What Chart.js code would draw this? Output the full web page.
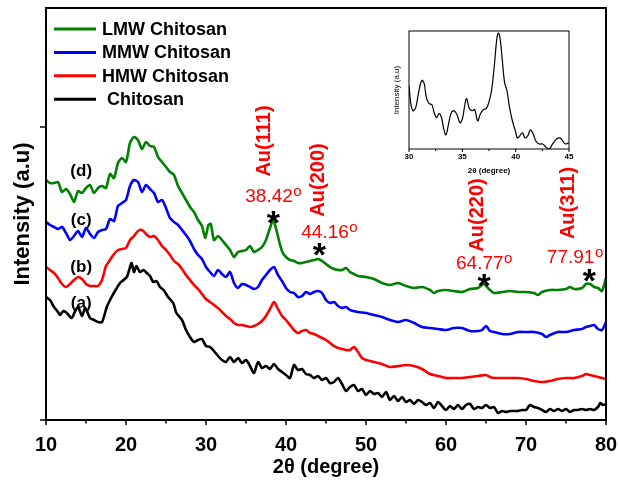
<!DOCTYPE html>
<html>
<head>
<meta charset="utf-8">
<script src="https://cdn.jsdelivr.net/npm/chart.js@4.4.0/dist/chart.umd.min.js"></script>
<style>
  body { margin: 0; background: #fff; }
  #wrap { position: relative; width: 619px; height: 486px; }
  #main { position: absolute; left: 0; top: 0; }
  #inset { position: absolute; left: 385px; top: 25px; }
</style>
</head>
<body>
<div id="wrap">
  <canvas id="main" width="619" height="486"></canvas>
  <canvas id="inset" width="195" height="155"></canvas>
</div>
<script>
// XRD patterns, offset vertically (arbitrary units)
const seriesNames = ['LMW Chitosan', 'MMW Chitosan', 'HMW Chitosan', ' Chitosan'];
const seriesTags = ['(d)', '(c)', '(b)', '(a)'];
const seriesColors = ['#008000', '#0000ff', '#ff0000', '#000000'];

const lmwX = [10,10.5,11,11.5,12,12.5,13,13.5,14,14.5,15,15.5,16,16.5,17,17.5,18,18.5,19,19.5,20,20.5,21,21.5,22,22.5,23,23.5,24,24.5,25,25.5,26,26.5,27,27.5,28,28.5,29,29.5,29.9,30.3,30.6,31,31.5,32,32.5,33,33.5,34,34.5,35,35.5,36,36.5,37,37.5,38,38.4,38.8,39.2,39.6,40,40.5,41,41.5,42,42.5,43,43.5,44,44.5,45,45.5,46,46.5,47,47.5,48,48.5,49,50,51,52,53,54,55,56,57,58,58.5,59,60,61,62,63,64,64.7,65.5,66,67,68,69,70,71,71.5,72,73,74,75,75.5,76,77,77.5,78,78.5,79,79.5,80];
const lmwY = [240,237,237,238,228,231,226,218,229,227,232,235,227,232,234,232,246,242,257,262,258,277,283,280,271,278,274,273,263,258,253,248,245,234,227,220,213,208,200,194,182,195,196,180,184,180,175,170,163,168,169,170,174,168,170,173,180,192,200,190,177,167,163,160,159,157,157,158,159,160,161,159,156,153,151,150,150,152,148,146,144,143,141,137,135,137,134,132,133,130,127,129,130,129,128,131,132,136,130,127,128,129,128,128,127,125,128,130,130,131,133,131,132,136,136,133,132,129,142];

const mmwX = [10,10.5,11,11.5,12,12.5,13,13.5,14,14.5,15,15.5,16,16.5,17,17.5,18,18.5,19,19.5,20,20.5,21,21.5,22,22.5,23,23.5,24,24.5,25,25.5,26,26.5,27,27.5,28,28.5,29,29.5,30,30.5,31,31.5,32,32.5,33,33.5,34,34.5,35,35.5,36,36.5,37,37.5,38,38.5,39,39.5,40,40.5,41,41.5,42,42.5,43,43.5,44,44.5,45,45.5,46,46.5,47,47.5,48,49,50,51,52,53,54,55,56,57,58,59,60,61,62,63,64,64.5,65,65.5,66,67,68,69,70,71,72,72.5,73,74,75,76,77,77.5,78,78.5,79,79.5,80];
const mmwY = [198,195,193,191,193,187,180,184,189,183,192,186,182,188,190,191,201,199,214,217,220,234,240,238,228,235,231,227,218,220,212,202,198,195,190,185,179,171,165,161,153,148,144,150,146,143,148,137,132,136,135,133,131,133,140,145,150,153,145,139,132,128,127,123,124,128,126,128,129,127,120,117,118,114,112,113,110,108,107,105,103,100,98,100,97,93,92,91,90,92,92,89,89,90,94,89,88,86,86,88,88,88,86,83,85,88,88,90,91,93,94,95,91,90,98];

const hmwX = [10,10.5,11,11.5,12,12.5,13,13.5,14,14.5,15,15.5,16,16.5,17,17.5,18,18.5,19,19.5,20,20.5,21,21.5,22,22.5,23,23.5,24,24.5,25,25.5,26,26.5,27,27.5,28,28.5,29,29.5,30,30.5,31,31.5,32,32.5,33,33.5,34,34.5,35,35.5,36,36.5,37,37.5,38,38.5,39,39.5,40,40.5,41,41.5,42,42.5,43,43.5,44,44.5,45,45.5,46,46.5,47,47.5,48,48.5,49,49.5,50,50.5,51,51.5,52,53,54,55,56,57,58,59,60,61,62,63,64,65,65.5,66,67,68,69,70,71,72,73,74,75,76,77,77.5,78,79,80];
const hmwY = [153,150,147,142,136,133,136,140,143,141,136,134,134,134,140,154,160,166,170,171,172,180,184,189,190,186,183,184,180,174,170,165,159,156,151,145,140,135,131,126,121,118,115,112,108,104,101,97,95,95,94,93,94,96,99,104,111,118,111,104,100,95,90,87,89,90,87,86,84,82,80,77,74,72,71,70,70,73,68,62,60,59,58,57,56,53,54,55,54,51,46,44,42,42,42,43,44,45,43,42,42,42,42,41,39,38,39,41,42,42,44,46,45,43,41];

const chitX = [10,10.5,11,11.5,11.75,12.2,12.6,13.2,13.6,14,14.5,14.9,15.5,16,16.5,17,17.6,18.2,18.7,19.25,19.7,20.1,20.4,20.7,21,21.3,21.75,22.2,22.6,23,23.4,23.8,24.25,24.7,25.25,25.9,26.3,27,27.5,28,28.5,29,29.5,30,30.5,31,31.5,32,32.5,33,33.5,34,34.5,35,35.5,36,36.5,37,37.5,38,38.5,39,39.5,40,40.5,41,41.5,42,42.5,43,43.5,44,44.5,45,45.5,46,46.5,47,47.5,48,48.5,49,49.5,50,50.5,51,51.5,52,52.5,53,53.5,54,54.5,55,55.5,56,56.5,57,57.5,58,58.5,59,59.5,60,60.5,61,61.5,62,62.5,63,63.5,64,64.5,65,65.5,66,66.5,67,67.5,68,68.5,69,69.5,70,70.5,71,71.5,72,72.5,73,73.5,74,74.5,75,75.5,76,76.5,77,77.5,78,78.5,79,79.3,79.6,80];
const chitY = [123,120,113,108,105,109,107,102,108,113,104,112,102,100,98,98,113,123,130,137,140,143,150,157,148,154,148,150,147,144,138,139,133,130,123,117,107,100,90,83,78,80,81,74,73,69,64,60,58,63,58,62,57,60,54,47,58,52,54,51,56,51,48,45,42,55,50,51,46,45,42,44,40,42,37,38,42,36,29,33,35,29,31,25,29,26,27,23,28,20,24,19,23,18,20,16,20,18,15,17,12,18,14,10,14,11,15,11,15,16,11,13,12,15,12,13,7,9,8,9,9,9,10,10,15,13,12,10,8,11,9,11,9,11,8,10,10,11,10,11,10,13,17,15,16];

// Au reflections
const peakNames = ['Au(111)', 'Au(200)', 'Au(220)', 'Au(311)'];
const peakAngles = [38.42, 44.16, 64.77, 77.91];

// Inset: 30-45 degree window around Au(111)
const insetX = [30,30.17,30.38,30.63,30.88,31.2,31.42,31.63,31.89,32.14,32.36,32.58,32.83,33.05,33.24,33.46,33.71,33.93,34.15,34.46,34.78,35.03,35.19,35.4,35.66,35.92,36.16,36.44,36.7,36.98,37.23,37.48,37.74,38.02,38.24,38.4,38.56,38.75,38.96,39.18,39.43,39.69,39.97,40.16,40.38,40.63,40.88,41.13,41.39,41.64,41.89,42.2,42.52,42.83,43.14,43.46,43.84,44.15,44.41,44.65,44.97];
const insetY = [63,45,38,41,55,68,65,51,45,44,36,31,35,31,21,14,25,35,38,35,26,31,41,50,40,38,39,28,35,39,40,46,58,85,110,115,108,88,66,58,41,28,18,11,13,16,11,13,19,15,8,5,5,2,0,5,10,11,8,5,6];

const FONT = '"Liberation Sans", Arial, Helvetica, sans-serif';

const toPoints = (xs, ys) => xs.map((x, i) => ({ x, y: ys[i] }));

const mainData = [lmwX, mmwX, hmwX, chitX].map((xs, i) => ({
  label: seriesNames[i],
  data: toPoints(xs, [lmwY, mmwY, hmwY, chitY][i]),
  borderColor: seriesColors[i],
  borderWidth: 2.6,
  pointRadius: 0,
  tension: 0.25,
  fill: false
}));

// where the tags and peak texts sit, in axis units
const tagPos = { x: 14.4, y: [249, 200, 153, 117] };
const peakText = [
  { star: 205, valX: 38.4, valY: 225, hklX: 37.25, hklY: 279 },
  { star: 173, valX: 45.4, valY: 189, hklX: 44.0, hklY: 240 },
  { star: 142, valX: 64.75, valY: 158, hklX: 63.9, hklY: 205 },
  { star: 147, valX: 76.1, valY: 164, hklX: 75.3, hklY: 217 }
];

// keep the plot edges where the layout padding puts them
const noEdgePadding = s => { s.paddingLeft = 0; s.paddingRight = 0; s.paddingTop = 0; s.paddingBottom = 0; };

const frameTicks = {
  id: 'frameTicks',
  afterDraw(chart) {
    const { ctx, chartArea: a, scales: { x, y } } = chart;
    ctx.save();
    ctx.strokeStyle = '#000';
    ctx.lineWidth = 2;
    ctx.strokeRect(a.left, a.top, a.right - a.left, a.bottom - a.top);
    ctx.lineWidth = 1.5;
    ctx.beginPath();
    for (let v = 10; v <= 80; v += 5) {
      const px = x.getPixelForValue(v);
      ctx.moveTo(px, a.bottom);
      ctx.lineTo(px, a.bottom + (v % 10 === 0 ? 5 : 3.5));
    }
    [0, 293].forEach(v => {
      const py = y.getPixelForValue(v);
      ctx.moveTo(a.left, py);
      ctx.lineTo(a.left - 6, py);
    });
    ctx.stroke();
    ctx.restore();
  }
};

const legendBox = {
  id: 'legendBox',
  afterDraw(chart) {
    const { ctx, chartArea: a } = chart;
    ctx.save();
    ctx.font = 'bold 18px ' + FONT;
    ctx.textBaseline = 'middle';
    chart.data.datasets.forEach((ds, i) => {
      const yy = a.top + 21 + i * 23.4;
      ctx.strokeStyle = ds.borderColor;
      ctx.lineWidth = 3;
      ctx.beginPath();
      ctx.moveTo(a.left + 8, yy);
      ctx.lineTo(a.left + 50, yy);
      ctx.stroke();
      ctx.fillStyle = '#000';
      ctx.fillText(ds.label, a.left + 56, yy + 1);
    });
    ctx.restore();
  }
};

const peakLabels = {
  id: 'peakLabels',
  afterDraw(chart) {
    const { ctx, scales: { x, y } } = chart;
    ctx.save();
    // curve tags
    ctx.fillStyle = '#000';
    ctx.font = 'bold 17px ' + FONT;
    ctx.textAlign = 'center';
    ctx.textBaseline = 'middle';
    seriesTags.forEach((t, i) => {
      ctx.fillText(t, x.getPixelForValue(tagPos.x), y.getPixelForValue(tagPos.y[i]));
    });
    peakAngles.forEach((ang, i) => {
      const p = peakText[i];
      // asterisk over the reflection
      ctx.fillStyle = '#000';
      ctx.font = 'bold 34px ' + FONT;
      ctx.textAlign = 'center';
      ctx.textBaseline = 'alphabetic';
      ctx.fillText('*', x.getPixelForValue(ang), y.getPixelForValue(p.star) + 19);
      // 2theta value with degree mark
      ctx.fillStyle = '#ff0000';
      const txt = ang.toFixed(2);
      ctx.font = '19px ' + FONT;
      const w1 = ctx.measureText(txt).width;
      ctx.font = '15px ' + FONT;
      const w2 = ctx.measureText('o').width;
      const cx = x.getPixelForValue(p.valX);
      const cy = y.getPixelForValue(p.valY);
      const x0 = cx - (w1 + w2) / 2;
      ctx.textAlign = 'left';
      ctx.font = '19px ' + FONT;
      ctx.fillText(txt, x0, cy + 7);
      ctx.font = '15px ' + FONT;
      ctx.fillText('o', x0 + w1 + 0.5, cy + 1);
      // hkl label, rotated
      ctx.save();
      ctx.translate(x.getPixelForValue(p.hklX), y.getPixelForValue(p.hklY));
      ctx.rotate(-Math.PI / 2);
      ctx.font = 'bold 20px ' + FONT;
      ctx.textAlign = 'center';
      ctx.textBaseline = 'middle';
      ctx.fillText(peakNames[i], 0, 0);
      ctx.restore();
    });
    ctx.restore();
  }
};

new Chart(document.getElementById('main'), {
  type: 'line',
  data: { datasets: mainData },
  options: {
    responsive: false,
    animation: false,
    layout: { padding: { top: 8, right: 13, left: 0, bottom: 0 } },
    plugins: { legend: { display: false }, tooltip: { enabled: false } },
    scales: {
      x: {
        type: 'linear',
        min: 10,
        max: 80,
        grid: { display: false, drawTicks: false },
        border: { display: false },
        ticks: { stepSize: 10, color: '#000', padding: 13, font: { family: FONT, size: 20, weight: 'bold' } },
        title: { display: true, text: '2θ (degree)', color: '#000', padding: { top: 0, bottom: 7 }, font: { family: FONT, size: 20, weight: 'bold' } },
        afterFit: s => { s.height = 66; noEdgePadding(s); }
      },
      y: {
        min: 0,
        max: 412,
        grid: { display: false, drawTicks: false },
        border: { display: false },
        ticks: { display: false },
        title: { display: true, text: 'Intensity (a.u)', color: '#000', padding: { top: 10, bottom: 0 }, font: { family: FONT, size: 22, weight: 'bold' } },
        afterFit: s => { s.width = 46; noEdgePadding(s); }
      }
    }
  },
  plugins: [frameTicks, legendBox, peakLabels]
});

const insetFrame = {
  id: 'insetFrame',
  afterDraw(chart) {
    const { ctx, chartArea: a, scales: { x } } = chart;
    ctx.save();
    ctx.strokeStyle = '#000';
    ctx.lineWidth = 1;
    ctx.strokeRect(a.left, a.top, a.right - a.left, a.bottom - a.top);
    ctx.beginPath();
    for (let v = 30; v <= 45; v += 2.5) {
      const px = x.getPixelForValue(v);
      ctx.moveTo(px, a.bottom);
      ctx.lineTo(px, a.bottom + (v % 5 === 0 ? 3 : 2));
    }
    ctx.stroke();
    ctx.restore();
  }
};

new Chart(document.getElementById('inset'), {
  type: 'line',
  data: {
    datasets: [{
      data: toPoints(insetX, insetY),
      borderColor: '#000',
      borderWidth: 1.2,
      pointRadius: 0,
      tension: 0.4,
      fill: false
    }]
  },
  options: {
    responsive: false,
    animation: false,
    layout: { padding: { top: 6, right: 11, left: 0, bottom: 0 } },
    plugins: { legend: { display: false }, tooltip: { enabled: false } },
    scales: {
      x: {
        type: 'linear',
        min: 30,
        max: 45,
        grid: { display: false, drawTicks: false },
        border: { display: false },
        ticks: { stepSize: 5, color: '#000', padding: 3, font: { family: FONT, size: 8, weight: 'bold' } },
        title: { display: true, text: '2θ (degree)', color: '#000', padding: { top: 0, bottom: 4 }, font: { family: FONT, size: 8, weight: 'bold' } },
        afterFit: s => { s.height = 31; noEdgePadding(s); }
      },
      y: {
        min: 0,
        max: 117,
        grid: { display: false, drawTicks: false },
        border: { display: false },
        ticks: { display: false },
        title: { display: true, text: 'Intensity (a.u)', color: '#000', padding: { top: 7, bottom: 0 }, font: { family: FONT, size: 8 } },
        afterFit: s => { s.width = 24; noEdgePadding(s); }
      }
    }
  },
  plugins: [insetFrame]
});
</script>
</body>
</html>
